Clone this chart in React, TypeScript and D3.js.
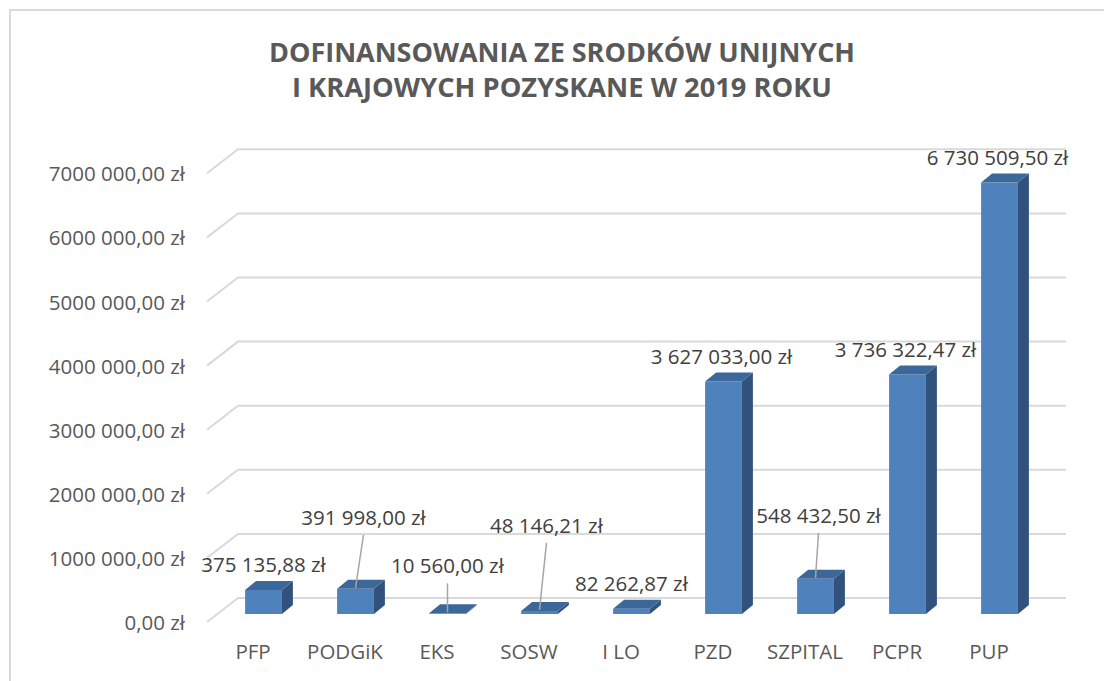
import React from 'react';
import * as d3 from 'd3';

const categories = ['PFP', 'PODGiK', 'EKS', 'SOSW', 'I LO', 'PZD', 'SZPITAL', 'PCPR', 'PUP'];
const values = [375135.88, 391998.0, 10560.0, 48146.21, 82262.87, 3627033.0, 548432.5, 3736322.47, 6730509.5];
const tickValues = [0, 1000000, 2000000, 3000000, 4000000, 5000000, 6000000, 7000000];
const tickLabels = ['0,00 zł', '1000 000,00 zł', '2000 000,00 zł', '3000 000,00 zł', '4000 000,00 zł', '5000 000,00 zł', '6000 000,00 zł', '7000 000,00 zł'];
const titleLines = ['DOFINANSOWANIA ZE SRODKÓW UNIJNYCH', 'I KRAJOWYCH POZYSKANE W 2019 ROKU'];

// layout of manually moved data labels (pixels), kept apart from the data
const labelShift: [number, number][] = [[0, 0], [8, -46], [0, -22], [7, -60], [0, 0], [-2, 0], [3, -38], [-2, 0], [-2, 0]];

const W = 1104;
const H = 681;
const x0 = 207; // front-left of floor
const plotW = 828;
const y0 = 622; // front baseline
const depth = { dx: 31, dy: -24 }; // wall depth
const barPlane = { dx: 10.5, dy: -8 }; // bar front plane offset
const barSide = { dx: 11, dy: -9 }; // bar depth

const plZl = d3.formatLocale({ decimal: ',', thousands: ' ', grouping: [3], currency: ['', ' zł'] });
const fmt = plZl.format('$,.2f');

const FONT = "'Open Sans', sans-serif";

export default function App() {
  const x = d3.scaleBand<string>().domain(categories).range([0, plotW]).paddingInner(0.6).paddingOuter(0.3);
  const y = d3.scaleLinear().domain([0, 7000000]).range([0, 448.7]);
  const step = x.step();
  const bw = x.bandwidth();

  return (
    <svg width={W} height={H} style={{ position: 'fixed', left: 0, top: 0, background: '#fff' }}>
      <rect x={0} y={0} width={W} height={H} fill="#fff" />
      <rect x={10} y={10} width={W + 20} height={H + 20} fill="none" stroke="#d9d9d9" strokeWidth={2} />

      {titleLines.map((t, i) => (
        <text
          key={t}
          x={562}
          y={62 + i * 35}
          textAnchor="middle"
          fontFamily={FONT}
          fontWeight={700}
          fontSize={27}
          fill="#595959"
          textLength={i === 0 ? 586 : 540}
          lengthAdjust="spacingAndGlyphs"
        >
          {t}
        </text>
      ))}

      {/* gridlines */}
      {tickValues.map((v) => {
        const fy = y0 - y(v);
        return (
          <g key={v}>
            <path
              d={`M${x0},${fy}L${x0 + depth.dx},${fy + depth.dy}L${x0 + depth.dx + plotW},${fy + depth.dy}`}
              fill="none"
              stroke="#d9d9d9"
              strokeWidth={2}
            />
          </g>
        );
      })}

      {/* y tick labels */}
      {tickValues.map((v, i) => (
        <text key={'t' + v} x={185} y={y0 - y(v) + 8} textAnchor="end" fontFamily={FONT} fontSize={20.5} fill="#595959">
          {tickLabels[i]}
        </text>
      ))}

      {/* category labels */}
      {categories.map((c) => (
        <text key={'c' + c} x={x0 + (x(c) as number) + bw / 2} y={659} textAnchor="middle" fontFamily={FONT} fontSize={20.5} fill="#595959">
          {c}
        </text>
      ))}

      {/* bars */}
      {categories.map((c, i) => {
        const fx = x0 + barPlane.dx + (x(c) as number);
        const bottom = y0 + barPlane.dy;
        const top = bottom - y(values[i]);
        const h = bottom - top;
        const sx = barSide.dx;
        const sy = barSide.dy;
        return (
          <g key={'b' + c}>
            <rect x={fx} y={top} width={bw} height={Math.max(h, 0.5)} fill="#4f81bd" />
            <path d={`M${fx + bw},${top}L${fx + bw + sx},${top + sy}L${fx + bw + sx},${bottom + sy}L${fx + bw},${bottom}Z`} fill="#30527c" />
            <path d={`M${fx},${top}L${fx + sx},${top + sy}L${fx + bw + sx},${top + sy}L${fx + bw},${top}Z`} fill="#3c6799" />
          </g>
        );
      })}

      {/* data labels */}
      {categories.map((c, i) => {
        const fx = x0 + barPlane.dx + (x(c) as number);
        const cx = fx + bw / 2;
        const frontTop = y0 + barPlane.dy - y(values[i]);
        const backTop = frontTop + barSide.dy;
        const [sdx, sdy] = labelShift[i];
        const lx = cx + sdx;
        const ly = backTop - 9 + sdy;
        return (
          <g key={'l' + c}>
            {sdy < -15 && (
              <line x1={lx} y1={ly + 10} x2={cx} y2={frontTop - 1} stroke="#a6a6a6" strokeWidth={1.5} />
            )}
            <text x={lx} y={ly} textAnchor="middle" fontFamily={FONT} fontSize={20.5} fill="#404040">
              {fmt(values[i])}
            </text>
          </g>
        );
      })}
    </svg>
  );
}
